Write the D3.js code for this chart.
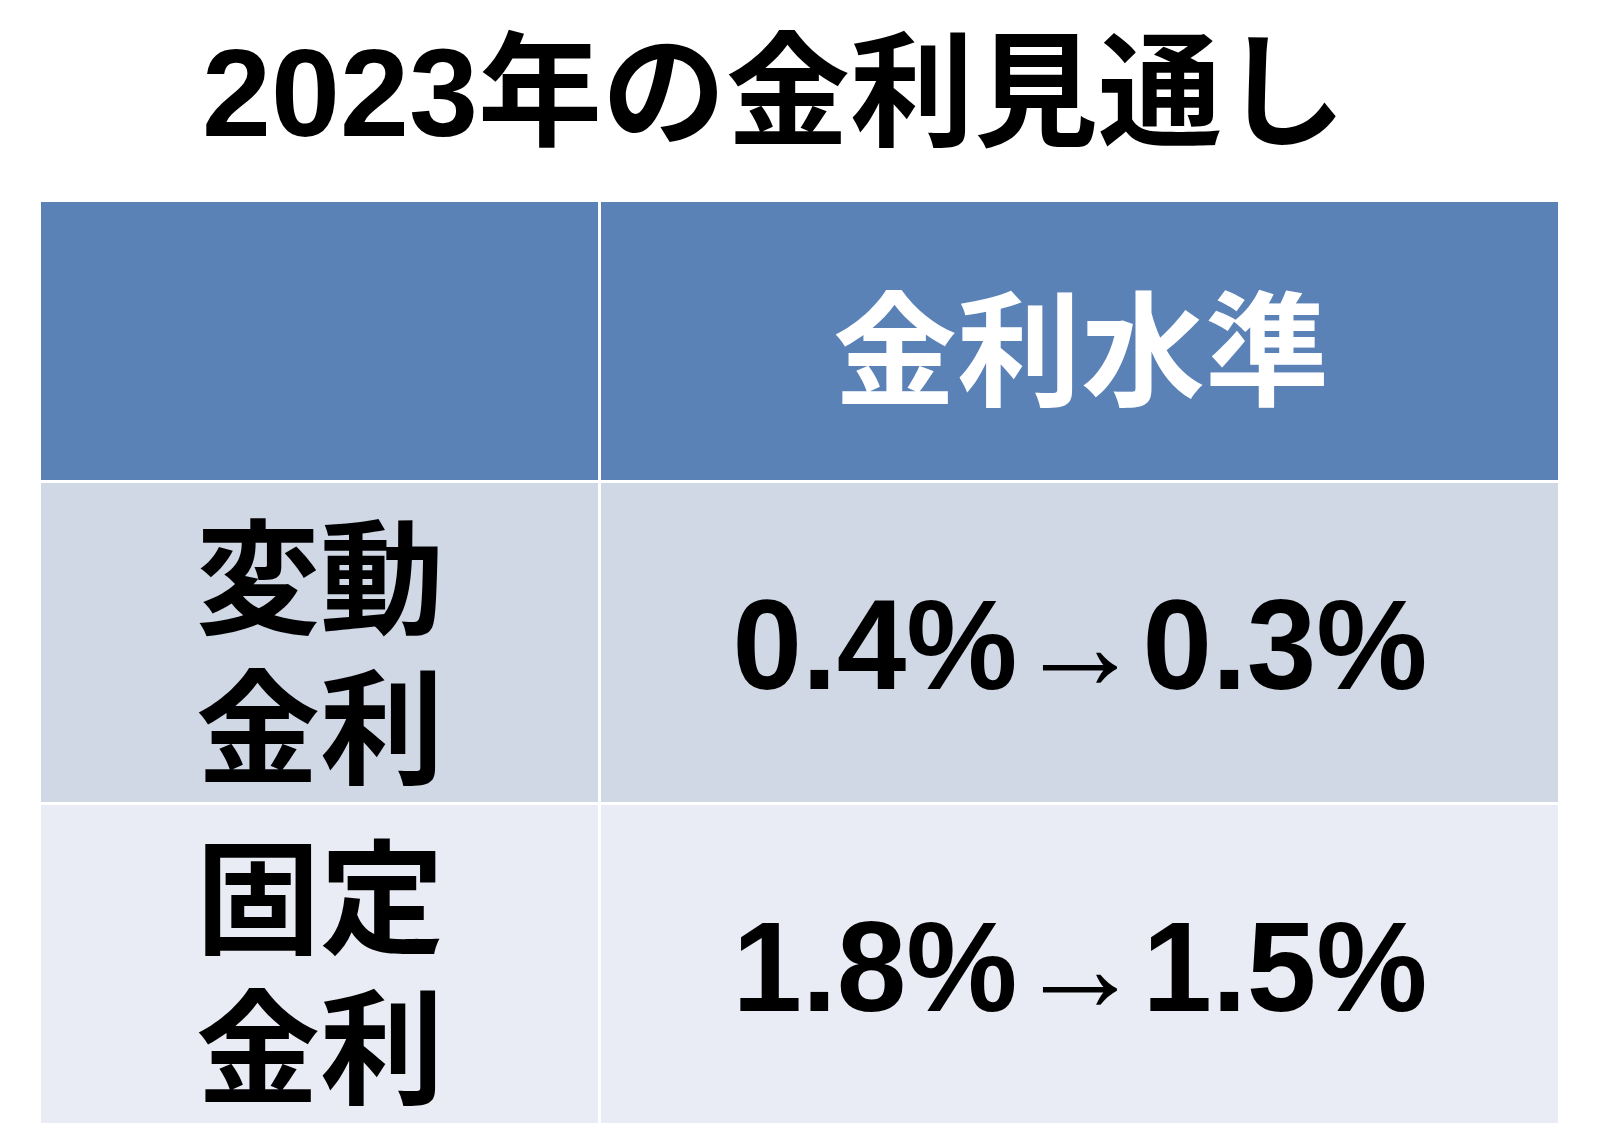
<!DOCTYPE html>
<html><head><meta charset="utf-8">
<script src="https://cdn.jsdelivr.net/npm/d3@7"></script>
<style>body{margin:0;background:#fff}</style>
</head><body>
<script>
// table data
const title = "2023年の金利見通し";
const header = ["", "金利水準"];
const rowLabels = [["変動", "金利"], ["固定", "金利"]];
const rowValues = ["0.4%→0.3%", "1.8%→1.5%"];
const rowColors = ["#d0d8e6", "#e9ecf4"];

const W = 1610, H = 1148;
const svg = d3.select("body").append("svg").attr("width", W).attr("height", H);
const font = "'Liberation Sans', 'Noto Sans CJK JP', sans-serif";

svg.append("text")
    .attr("x", 774).attr("y", 136)
    .attr("text-anchor", "middle")
    .attr("font-family", font).attr("font-weight", "bold")
    .attr("font-size", 124)
    .text(title);

let left = 41, right = 1561, split = 601;
let x = d3.scaleOrdinal().domain([0, 1]).range([left, split]);
let colW = [split - left, right - split];

let rowsY = [202, 483, 805, 1126];
let labelY = [[624, 774], [944, 1094]];

// header
header.forEach((h, i) => {
    svg.append("rect").attr("x", x(i)).attr("y", rowsY[0])
        .attr("width", colW[i] - 3).attr("height", rowsY[1] - rowsY[0] - 3)
        .attr("fill", "#5b82b7");
    svg.append("text").attr("x", x(i) + colW[i] / 2).attr("y", 396)
        .attr("text-anchor", "middle").attr("fill", "#fff")
        .attr("font-family", font).attr("font-weight", "bold").attr("font-size", 124)
        .text(h);
});

rowLabels.forEach((lab, r) => {
    let y0 = rowsY[r + 1], y1 = rowsY[r + 2];
    for (let i = 0; i < 2; i++) {
        svg.append("rect").attr("x", x(i)).attr("y", y0)
            .attr("width", colW[i] - 3).attr("height", y1 - y0 - 3)
            .attr("fill", rowColors[r]);
    }
    lab.forEach((t, k) => {
        svg.append("text").attr("x", 320).attr("y", labelY[r][k])
            .attr("text-anchor", "middle")
            .attr("font-family", font).attr("font-weight", "bold").attr("font-size", 124)
            .text(t);
    });
    svg.append("text").attr("x", 1080).attr("y", r === 0 ? 689 : 1011)
        .attr("text-anchor", "middle")
        .attr("font-family", font).attr("font-weight", "bold").attr("font-size", 128)
        .attr("textLength", 695).attr("lengthAdjust", "spacingAndGlyphs")
        .text(rowValues[r]);
});
</script>
</body></html>
